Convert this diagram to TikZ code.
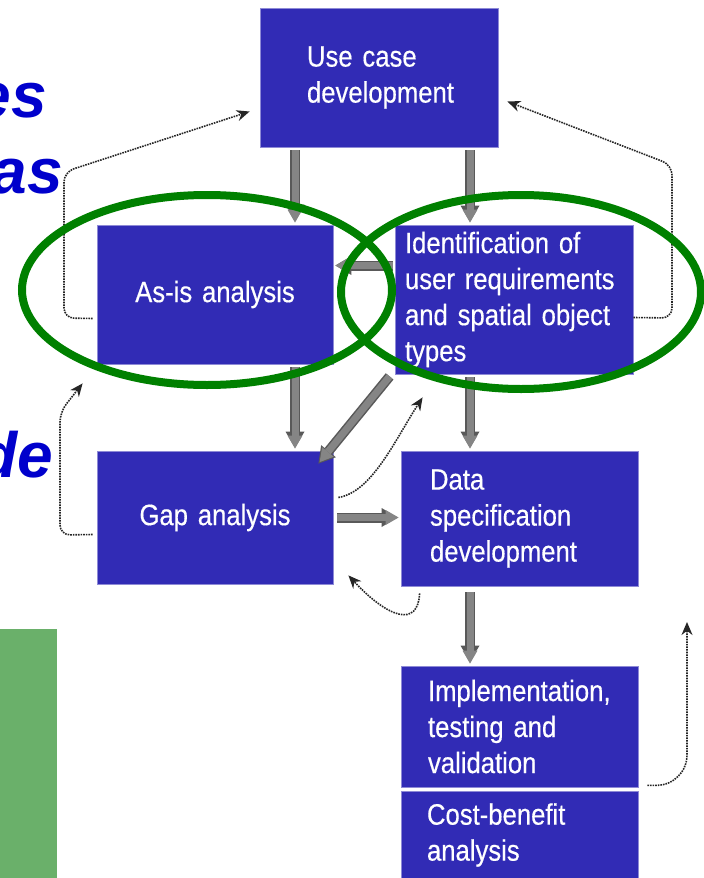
\documentclass[tikz,border=0pt]{standalone}
\usepackage{fontspec}
\usepackage{xcolor}
\newfontfamily\boxfont{Liberation Sans}[FakeStretch=0.87, FakeBold=0.4]
\newfontfamily\notefont{Liberation Sans}
\newcommand\stagefont{\boxfont\fontsize{29.5}{36}\selectfont\fontdimen2\font=5.5pt\relax}
\definecolor{stageblue}{RGB}{49, 43, 181}
\definecolor{notegreen}{RGB}{106, 176, 106}
\definecolor{ringgreen}{RGB}{0, 128, 0}
\definecolor{noteblue}{RGB}{0, 0, 204}
\usetikzlibrary{arrows.meta,positioning}

\tikzset{
    stagebox/.style={fill=stageblue, draw=stageblue!55!white, line width=0.8pt, text=white,
        font=\stagefont, align=left, inner ysep=0pt},
    blockarrow/.style={draw=black!65, line width=10pt,
        -{Triangle[length=16pt, width=19pt, line width=0pt]},
        postaction={draw, black!48, line width=7pt, shorten >=2pt,
            -{Triangle[length=13pt, width=15pt, line width=0pt]}}},
    dotarrow/.style={densely dotted, line width=1.6pt, black!85, -{Stealth[length=13pt, width=11pt]}},
    ring/.style={ringgreen, line width=8pt},
    notetext/.style={noteblue, font=\notefont\bfseries\itshape\fontsize{64}{70}\selectfont, inner sep=0pt}
}

\begin{document}
\begin{tikzpicture}[x=1pt, y=-1pt]
    \useasboundingbox (0, 0) rectangle (704, 878);

    % Stages
    \node[stagebox, minimum width=238, minimum height=139, text width=144, inner xsep=47] (usecase) at (379, 77.5) {Use case\\development};
    \node[stagebox, minimum width=236, minimum height=139, text width=216, inner xsep=10, align=center] (asis) at (215, 294.5) {As-is analysis};
    \node[stagebox, minimum width=238, minimum height=149, text width=218, inner xsep=10] (ident) at (514, 299.5) {Identification of\\user requirements\\and spatial object\\types};
    \node[stagebox, minimum width=236, minimum height=133, text width=216, inner xsep=10, align=center] (gap) at (215, 517.5) {Gap analysis};
    \node[stagebox, minimum width=237, minimum height=135, text width=179, inner xsep=29] (data) at (519.5, 518.5) {Data\\specification\\development};
    \node[stagebox, minimum width=237, minimum height=121, text width=183, inner xsep=27] (impl) at (519.5, 726.5) {Implementation,\\testing and\\validation};
    \node[stagebox, minimum width=237, minimum height=88, text width=185, inner xsep=26] (cost) at (519.5, 835) {Cost-benefit\\analysis};

    % Main flow
    \draw[blockarrow, shorten <=3pt, shorten >=4pt] ([xshift=-84pt]usecase.south) -- ([xshift=-84pt]usecase.south |- asis.north);
    \draw[blockarrow, shorten <=3pt, shorten >=3pt] ([xshift=91pt]usecase.south) -- ([xshift=91pt]usecase.south |- ident.north);
    \draw[blockarrow, shorten <=2pt, shorten >=2pt] ([yshift=34pt]ident.west) -- ([yshift=34pt]ident.west -| asis.east);
    \draw[blockarrow, shorten <=3pt, shorten >=3pt] ([xshift=80pt]asis.south) -- ([xshift=80pt]asis.south |- gap.north);
    \draw[blockarrow] ([xshift=-5pt, yshift=-2pt]ident.south west) -- ([xshift=-15pt, yshift=-13pt]gap.north east);
    \draw[blockarrow, shorten <=3pt, shorten >=3pt] ([xshift=-44pt]ident.south) -- ([xshift=-44pt]ident.south |- data.north);
    \draw[blockarrow, shorten <=4pt, shorten >=3pt] (gap.east) -- (gap.east -| data.west);
    \draw[blockarrow, shorten <=6pt, shorten >=4pt] ([xshift=-49.5pt]data.south) -- ([xshift=-49.5pt]data.south |- impl.north);

    % Feedback loops
    \coordinate (feedback) at (687, 622);
    \draw[dotarrow, rounded corners=10pt] ([xshift=-4pt, yshift=-24pt]asis.west) -- (64, 318) -- (64, 172) -- ([xshift=-10pt, yshift=-34pt]usecase.west);
    \draw[dotarrow, rounded corners=10pt] ([yshift=-18pt]ident.east) -- (672, 318) -- (672, 165) -- ([xshift=9pt, yshift=-24pt]usecase.east);
    \draw[dotarrow, rounded corners=10pt] ([xshift=-4pt, yshift=-17pt]gap.west) -- (60, 535) -- (60, 412) -- ([xshift=-14pt, yshift=-19pt]asis.south west);
    \draw[dotarrow] ([xshift=5pt, yshift=20pt]gap.east) .. controls (372, 492) and (395, 440) .. ([xshift=28pt, yshift=-23pt]ident.south west);
    \draw[dotarrow] ([xshift=19pt, yshift=-7pt]data.south west) .. controls (418, 628) and (388, 618) .. ([xshift=15pt, yshift=9pt]gap.south east);
    \draw[dotarrow, rounded corners=30pt] ([xshift=9pt, yshift=2pt]impl.south east) -- (687, 785) -- (feedback);

    % Highlight rings
    \draw[ring] (207, 290) ellipse [x radius=185, y radius=95];
    \draw[ring] (521, 292) ellipse [x radius=180, y radius=97];

    % Cut-off side notes
    \fill[notegreen] (0, 629) rectangle (57, 878);
    \node[notetext, anchor=base east] (notees) at (47, 117) {es};
    \node[notetext, anchor=base east] (noteas) at (63, 193) {as};
    \node[notetext, anchor=base east] (notede) at (53, 477) {de};
\end{tikzpicture}
\end{document}
